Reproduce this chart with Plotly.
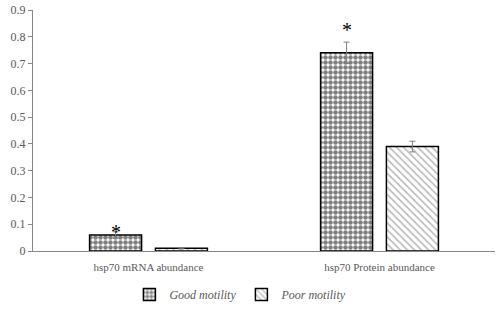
import plotly.graph_objects as go

categories = ["hsp70 mRNA abundance", "hsp70 Protein abundance"]
good_vals = [0.06, 0.74]
good_err = [0.012, 0.04]
poor_vals = [0.01, 0.39]
poor_err = [0.002, 0.02]
y_ticks = [0, 0.1, 0.2, 0.3, 0.4, 0.5, 0.6, 0.7, 0.8, 0.9]
y_tick_text = ["0", "0.1", "0.2", "0.3", "0.4", "0.5", "0.6", "0.7", "0.8", "0.9"]
star_labels = ["*", "*"]

FONT = "Liberation Serif, DejaVu Serif, serif"
GRAY = "#595959"
star_yshift = [0, 12]

fig = go.Figure()
fig.add_trace(go.Bar(
    name="Good motility", x=categories, y=good_vals,
    error_y=dict(type="data", array=good_err, color="#7f7f7f", thickness=1, width=3),
    marker=dict(color="white", line=dict(color="black", width=1.5),
                pattern=dict(shape=".", fgcolor="black", bgcolor="white", size=5, solidity=0.65)),
))
fig.add_trace(go.Bar(
    name="Poor motility", x=categories, y=poor_vals,
    error_y=dict(type="data", array=poor_err, color="#7f7f7f", thickness=1, width=3),
    marker=dict(color="white", line=dict(color="black", width=1.5),
                pattern=dict(shape="\\", fgcolor="#707070", bgcolor="white", size=5, solidity=0.3)),
))

for cat, v, e, s, ys in zip(categories, good_vals, good_err, star_labels, star_yshift):
    fig.add_annotation(x=cat, y=v + e, text=s, showarrow=False, xshift=-33,
                       yanchor="middle", yshift=ys,
                       font=dict(family=FONT, size=20, color="black"))

fig.update_layout(
    width=500, height=309,
    margin=dict(l=33, r=5, t=10, b=58, autoexpand=False),
    paper_bgcolor="white", plot_bgcolor="white",
    barmode="group", bargap=0.43, bargroupgap=0.21,
    font=dict(family=FONT, size=11, color=GRAY),
    showlegend=True,
    legend=dict(orientation="h", x=0.45, xanchor="center", yref="container", y=0.0, yanchor="bottom",
                font=dict(family=FONT, size=12, color=GRAY, style="italic"),
                itemwidth=30, traceorder="normal"),
    xaxis=dict(showline=True, linecolor="#888888", linewidth=1, ticks="",
               ticklabelstandoff=6,
               showgrid=False, tickfont=dict(family=FONT, size=11, color=GRAY)),
    yaxis=dict(range=[0, 0.9], tickvals=y_ticks, ticktext=y_tick_text,
               showline=True, linecolor="#888888", linewidth=1,
               ticks="outside", ticklen=4, tickcolor="#888888",
               showgrid=False, zeroline=False, tickfont=dict(family=FONT, size=12, color=GRAY)),
)

fig.write_html("out.html", config={"displayModeBar": False},
               post_script="document.body.style.margin='0';")
